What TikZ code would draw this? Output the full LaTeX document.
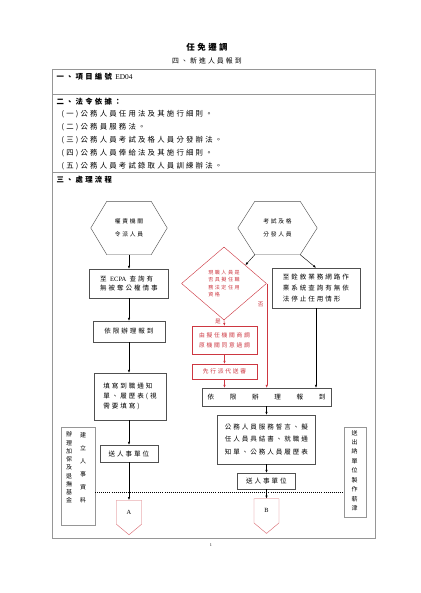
\documentclass[tikz,border=0pt]{standalone}
\usepackage{fontspec}
\setmainfont{Noto Sans CJK TC}[LetterSpace=30]
\newfontfamily\lat{Liberation Serif}
\usepackage{tikz}
\usetikzlibrary{positioning,shapes.geometric,shapes.symbols,calc}
\usetikzlibrary{arrows.meta}
\definecolor{flowred}{RGB}{205,55,65}
\definecolor{boxgray}{RGB}{80,80,80}
\definecolor{tablegray}{RGB}{150,150,150}

\begin{document}
\begin{tikzpicture}[x=0.05cm,y=-0.05cm,line width=0.6pt,
	box/.style={rectangle,draw=boxgray,inner sep=0pt,align=left,font=\fontsize{9.3}{13.5}\selectfont},
	redbox/.style={rectangle,draw=flowred,text=flowred,inner sep=0pt,align=center,font=\fontsize{8.2}{14.2}\selectfont},
	hexbox/.style={inner sep=0pt,align=center,font=\fontsize{8.2}{19}\selectfont},
	vtext/.style={inner sep=0pt,align=center},
	offpage/.style={signal,signal to=south,signal pointer angle=100,draw=flowred!75,minimum width=1.25cm,minimum height=1.3cm,inner sep=0pt,font=\lat\fontsize{9}{10}\selectfont},
	arr/.style={-{Latex[length=4pt,width=3.2pt]},draw=black},
	redarr/.style={-{Latex[length=4pt,width=3.2pt]},draw=flowred}]
	\useasboundingbox[fill=white] (0,0) rectangle (420,593);

	\node[font=\bfseries\fontsize{12}{14}\selectfont] (title) at(207,47) {任免遷調};
	\node[font=\fontsize{9.8}{12}\selectfont] (subtitle) at(207,61) {四、新進人員報到};

	\draw[draw=tablegray,line width=0.8pt] (52,69) rectangle (375,538);
	\draw[draw=tablegray,line width=0.8pt] (52,94) -- (375,94);
	\draw[draw=tablegray,line width=0.8pt] (52,172) -- (375,172);

	\node[anchor=west,font=\fontsize{10.5}{12}\selectfont] (sec1) at(54,77) {\textbf{一、項目編號}\,{\lat ED04}};
	\node[anchor=west,font=\bfseries\fontsize{10.5}{12}\selectfont] (sec2) at(54,102) {二、法令依據：};
	\node[anchor=west,font=\fontsize{10.5}{12}\selectfont] (law1) at(59,114.5) {(一)公務人員任用法及其施行細則。};
	\node[anchor=west,font=\fontsize{10.5}{12}\selectfont] (law2) at(59,127.3) {(二)公務員服務法。};
	\node[anchor=west,font=\fontsize{10.5}{12}\selectfont] (law3) at(59,140.1) {(三)公務人員考試及格人員分發辦法。};
	\node[anchor=west,font=\fontsize{10.5}{12}\selectfont] (law4) at(59,152.9) {(四)公務人員俸給法及其施行細則。};
	\node[anchor=west,font=\fontsize{10.5}{12}\selectfont] (law5) at(59,165.7) {(五)公務人員考試錄取人員訓練辦法。};
	\node[anchor=west,font=\bfseries\fontsize{10.5}{12}\selectfont] (sec3) at(54,180) {三、處理流程};

	% left column
	\node[hexbox,minimum width=3.8cm,minimum height=2.65cm] (hexL) at(129,228) {權責機關\\令派人員};
	\draw[draw=boxgray] (hexL.west) -- ([xshift=0.8cm]hexL.north west) -- ([xshift=-0.8cm]hexL.north east) -- (hexL.east) -- ([xshift=-0.8cm]hexL.south east) -- ([xshift=0.8cm]hexL.south west) -- cycle;
	\node[box,minimum width=3.95cm,minimum height=1.45cm] (ecpa) at(129,283.5) {至 {\lat ECPA} 查詢有\\無被奪公權情事};
	\node[box,minimum width=3.6cm,minimum height=1.05cm] (repL) at(129,331.5) {依限辦理報到};
	\node[box,minimum width=3.6cm,minimum height=2.35cm,font=\fontsize{9.3}{14.2}\selectfont] (fillL) at(130,396.5) {填寫到職通知\\單、履歷表(視\\需要填寫)};
	\node[box,minimum width=2.9cm,minimum height=0.85cm] (sendL) at(129,453.5) {送人事單位};
	\node[offpage,anchor=north] (offA) at(129,500) {A};

	% right column
	\node[hexbox,minimum width=3.95cm,minimum height=2.65cm] (hexR) at(277.5,228) {考試及格\\分發人員};
	\draw[draw=boxgray] (hexR.west) -- ([xshift=0.85cm]hexR.north west) -- ([xshift=-0.85cm]hexR.north east) -- (hexR.east) -- ([xshift=-0.85cm]hexR.south east) -- ([xshift=0.85cm]hexR.south west) -- cycle;
	\coordinate (hexRsw) at ([xshift=0.85cm]hexR.south west);
	\coordinate (hexRse) at ([xshift=-0.85cm]hexR.south east);
	\node[diamond,draw=flowred,text=flowred,minimum width=4.25cm,minimum height=3.65cm,inner sep=0pt,align=left,font=\fontsize{7.2}{10.8}\selectfont] (diam) at(224,283.5) {現職人員是\\否具擬任職\\務法定任用\\資格};
	\node[box,minimum width=4.4cm,minimum height=2cm,font=\fontsize{9.3}{15}\selectfont] (chkR) at(316,288) {至銓敘業務網路作\\業系統查詢有無依\\法停止任用情形};
	\node[redbox,minimum width=3.25cm,minimum height=1.4cm] (red1) at(224.5,340) {由擬任機關商調\\原機關同意過調};
	\node[redbox,minimum width=3.25cm,minimum height=0.75cm] (red2) at(224.5,371.5) {先行派代送審};
	\node[box,minimum width=6.45cm,minimum height=0.9cm] (repR) at(266.5,397) {\makebox[5.9cm][s]{依\hfill 限\hfill 辦\hfill 理\hfill 報\hfill 到}};
	\node[box,minimum width=4.9cm,minimum height=2.45cm,font=\fontsize{9.3}{17.3}\selectfont] (docs) at(266.5,439.5) {公務人員服務誓言、擬\\任人員具結書、就職通\\知單、公務人員履歷表};
	\node[box,minimum width=2.9cm,minimum height=0.8cm] (sendR) at(266.5,481) {送人事單位};
	\node[offpage,anchor=north] (offB) at(266.5,498.5) {B};

	% side boxes
	\node[box,draw=tablegray,minimum width=1.7cm,minimum height=4.9cm] (vbL) at(78,476) {};
	\node[vtext,font=\fontsize{8.5}{11.7}\selectfont] (vbL1) at(69,467.5) {辦\\理\\加\\保\\及\\退\\撫\\基\\金};
	\node[vtext,font=\fontsize{8.5}{18.5}\selectfont] (vbL2) at(83,467.5) {建\\立\\人\\事\\資\\料};
	\node[box,draw=tablegray,minimum width=1.1cm,minimum height=4.5cm] (vbR) at(355,472) {};
	\node[vtext,font=\fontsize{8.5}{13.4}\selectfont] (vbR1) at(354.5,470.5) {送\\出\\納\\單\\位\\製\\作\\薪\\津};
	\coordinate (dl) at(0,492);
	\draw[dotted,line width=0.9pt] (vbL.east |- dl) -- (vbR.west |- dl);

	\draw[arr] (hexL.south) -- (ecpa.north);
	\draw[arr] (ecpa) -- (repL);
	\draw[arr] (repL) -- (fillL.north -| repL);
	\draw[arr] (fillL.south -| sendL) -- (sendL);
	\draw[arr] (sendL) -- (offA.north);

	\draw[arr] (hexRsw) -- (diam.north east);
	\draw[arr] (hexRse) -- (chkR.north);
	\draw[redarr] (diam.south) -- (red1.north) node[pos=0.2,left=1pt,text=flowred,font=\fontsize{8}{9}\selectfont] {是};
	\draw[redarr] (red1) -- (red2);
	\draw[redarr] (red2.south) -- (red2.south |- repR.north);
	\draw[redarr] (diam.east) -- (diam.east |- repR.north) node[pos=0.2,left=1pt,text=flowred,font=\fontsize{8}{9}\selectfont] {否};
	\draw[arr] (chkR.south) -- (chkR.south |- repR.north);
	\draw[arr] (repR) -- (docs);
	\draw[arr] (docs) -- (sendR);
	\draw[arr] (sendR) -- (offB.north);

	\node[font=\lat\fontsize{6}{7}\selectfont] (page) at(211,545) {1};
\end{tikzpicture}
\end{document}
